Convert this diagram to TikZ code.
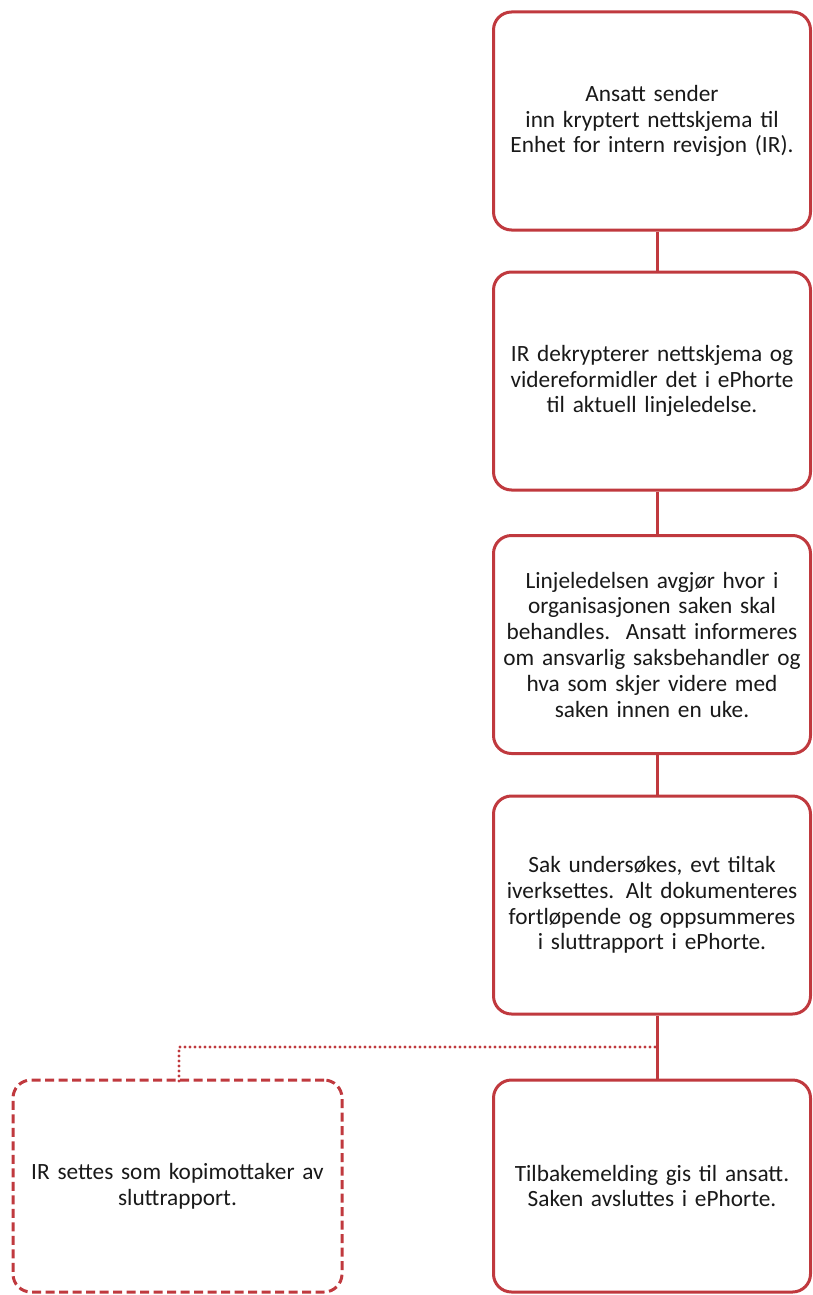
\documentclass[tikz,border=0pt]{standalone}
\usepackage{fontspec}
\setmainfont{Carlito}
\definecolor{boxred}{RGB}{192,57,62}
\definecolor{txt}{RGB}{25,25,25}
\begin{document}
\begin{tikzpicture}[x=1pt,y=-1pt,
  stepbox/.style={draw=boxred, line width=3pt, rounded corners=18pt, fill=white,
    minimum width=317pt, minimum height=218pt, inner sep=0pt,
    text width=316pt, align=center, text=txt,
    font=\fontsize{23.3pt}{25.8pt}\selectfont},
  optbox/.style={stepbox, dash pattern=on 9pt off 4.5pt, minimum width=329pt, text width=328pt},
  link/.style={draw=boxred, line width=3pt},
  optlink/.style={draw=boxred, line width=3.2pt, line cap=round, dash pattern=on 0pt off 5pt}
]
\useasboundingbox (0,0) rectangle (812,1295);
\node[stepbox] (b1) at (652,121) {Ansatt sender\\inn kryptert nettskjema til\\Enhet for intern revisjon (IR).};
\node[stepbox] (b2) at (652,381) {IR dekrypterer nettskjema og\\videreformidler det i ePhorte\\til aktuell linjeledelse.};
\node[stepbox] (b3) at (652,644.5) {Linjeledelsen avgjør hvor i\\organisasjonen saken skal\\behandles.\ \ Ansatt informeres\\om ansvarlig saksbehandler og\\hva som skjer videre med\\saken innen en uke.};
\node[stepbox] (b4) at (652,905) {Sak undersøkes, evt tiltak\\iverksettes. Alt dokumenteres\\fortløpende og oppsummeres\\i sluttrapport i ePhorte.};
\node[stepbox, minimum height=212pt] (b5) at (652,1186) {Tilbakemelding gis til ansatt.\\Saken avsluttes i ePhorte.};
\node[optbox, minimum height=212pt] (b6) at (177.5,1186) {IR settes som kopimottaker av\\sluttrapport.};
\coordinate (split) at (655,1047);
\coordinate (turn) at (179,1047);
\draw[link] (b1.south -| 657,0) -- (b2.north -| 657,0);
\draw[link] (b2.south -| 657,0) -- (b3.north -| 657,0);
\draw[link] (b3.south -| 657,0) -- (b4.north -| 657,0);
\draw[link] (b4.south -| 657,0) -- (b5.north -| 657,0);
\draw[optlink] (split) -- (turn) -- ([yshift=-3pt]b6.north -| turn);
\end{tikzpicture}
\end{document}
